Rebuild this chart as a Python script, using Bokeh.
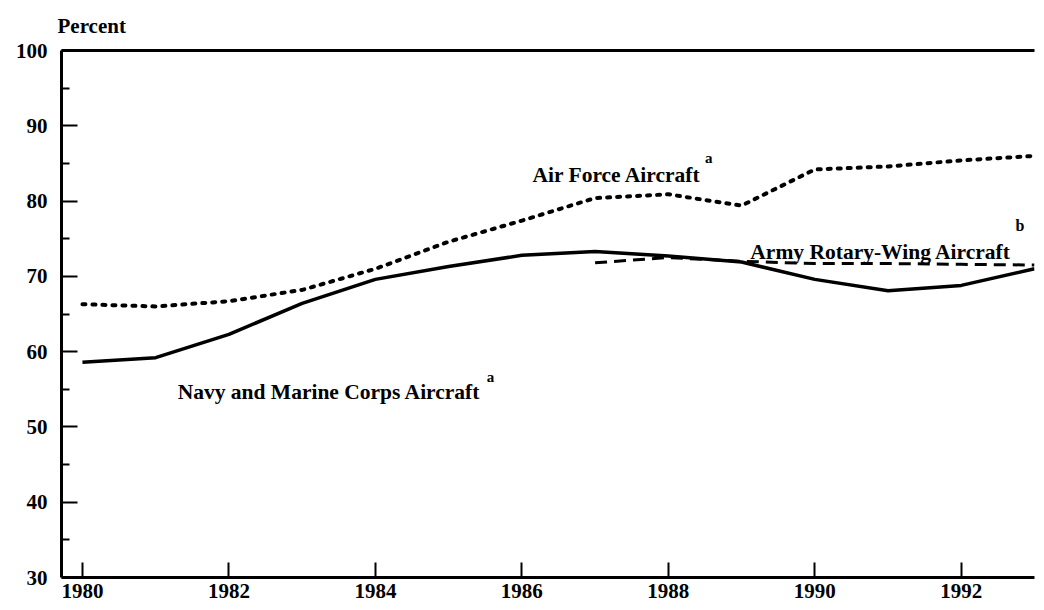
from bokeh.plotting import figure
from bokeh.models import LinearAxis, Label, FixedTicker, Range1d, Title
from bokeh.embed import file_html
from bokeh.resources import INLINE

years = [1980, 1981, 1982, 1983, 1984, 1985, 1986, 1987, 1988, 1989, 1990, 1991, 1992, 1993]
air_force = [66.3, 66.0, 66.7, 68.2, 71.0, 74.6, 77.4, 80.4, 80.9, 79.4, 84.2, 84.6, 85.4, 86.0]
navy = [58.6, 59.2, 62.3, 66.4, 69.6, 71.3, 72.8, 73.3, 72.7, 71.9, 69.6, 68.1, 68.8, 71.0]
army_years = [1987, 1988, 1989, 1990, 1991, 1992, 1993]
army = [71.8, 72.5, 72.0, 71.7, 71.7, 71.6, 71.5]
x_ticks = [1980, 1982, 1984, 1986, 1988, 1990, 1992]
y_ticks = [30, 40, 50, 60, 70, 80, 90, 100]
y_minor = [35, 45, 55, 65, 75, 85, 95]

FONT = "Liberation Serif"

p = figure(width=1040, height=606, output_backend="svg", toolbar_location=None,
           x_range=Range1d(1979.714, 1993.0), y_range=Range1d(30, 100),
           min_border_left=61, min_border_right=6, min_border_top=50, min_border_bottom=29,
           x_axis_location=None, y_axis_location=None)
p.outline_line_color = None
p.grid.visible = False
p.background_fill_color = "white"

# axes
xa = LinearAxis(ticker=FixedTicker(ticks=x_ticks))
xa.axis_line_width = 3
xa.axis_line_color = "black"
xa.major_tick_in = 15
xa.major_tick_out = 0
xa.major_tick_line_width = 2
xa.minor_tick_line_color = None
xa.major_label_standoff = 6
xa.major_label_text_font = FONT
xa.major_label_text_font_style = "bold"
xa.major_label_text_font_size = "21px"
xa.major_label_text_color = "black"
p.add_layout(xa, "below")

ya = LinearAxis(ticker=FixedTicker(ticks=y_ticks, minor_ticks=y_minor))
ya.axis_line_width = 3
ya.axis_line_color = "black"
ya.major_tick_in = 16
ya.major_tick_out = 0
ya.major_tick_line_width = 2
ya.minor_tick_in = 8
ya.minor_tick_out = 0
ya.minor_tick_line_width = 2
ya.major_label_standoff = 14
ya.major_label_text_font = FONT
ya.major_label_text_font_style = "bold"
ya.major_label_text_font_size = "21px"
ya.major_label_text_color = "black"
p.add_layout(ya, "left")

ta = LinearAxis(ticker=FixedTicker(ticks=[]))
ta.axis_line_width = 3
ta.axis_line_color = "black"
ta.major_label_text_font_size = "0px"
ta.major_label_standoff = 0
ta.major_tick_in = 0
ta.major_tick_out = 0
ta.minor_tick_in = 0
ta.minor_tick_out = 0
ta.major_tick_line_color = None
ta.minor_tick_line_color = None
p.add_layout(ta, "above")

p.add_layout(Title(text="Percent", align="left", offset=-4, standoff=22,
                   vertical_align="top", text_line_height=0.9,
                   text_font=FONT, text_font_style="bold", text_font_size="21px",
                   text_color="black"), "above")

# series
p.line(years, air_force, line_color="black", line_width=4, line_dash="3 7", line_cap="round")
p.line(years, navy, line_color="black", line_width=3.5, line_join="round")
p.line(army_years, army, line_color="black", line_width=3, line_dash="12 7")

def lab(x, y, t, size="21.5px"):
    p.add_layout(Label(x=x, y=y, text=t, text_font=FONT, text_font_style="bold",
                       text_font_size=size, text_color="black", text_baseline="alphabetic"))

lab(1986.145, 83.4, "Air Force Aircraft")
lab(1988.5, 85.7, "a", "15px")
lab(1989.12, 73.17, "Army Rotary-Wing Aircraft")
lab(1992.74, 76.8, "b", "16px")
lab(1981.30, 54.6, "Navy and Marine Corps Aircraft")
lab(1985.52, 56.6, "a", "15px")

open("out.html", "w").write(file_html(p, INLINE))
